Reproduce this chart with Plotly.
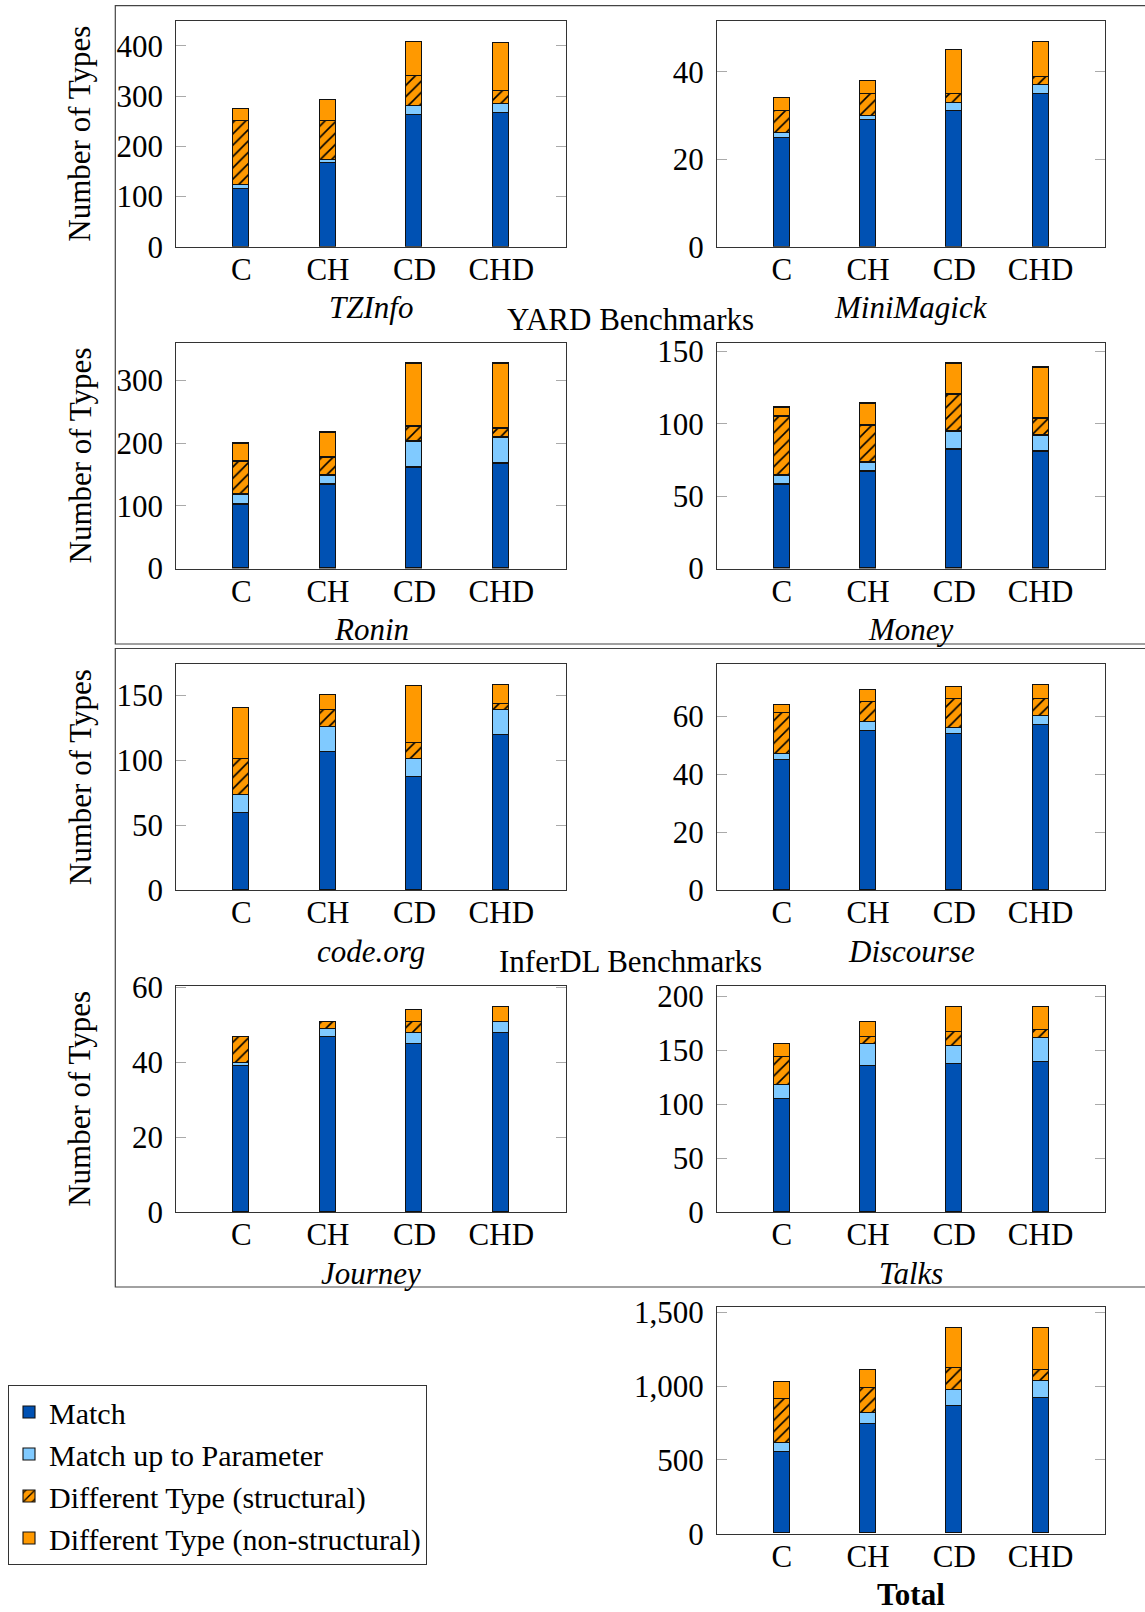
import plotly.graph_objects as go

categories = ["C", "CH", "CD", "CHD"]

benchmarks = ["TZInfo", "MiniMagick", "Ronin", "Money", "code.org", "Discourse", "Journey", "Talks", "Total"]

tzinfo_match = [116, 167, 262, 266]
tzinfo_param = [8, 7, 18, 18]
tzinfo_struct = [127, 77, 60, 26]
tzinfo_nonstruct = [23, 42, 69, 97]

minimagick_match = [25, 29, 31, 35]
minimagick_param = [1, 1, 2, 2]
minimagick_struct = [5, 5, 2, 2]
minimagick_nonstruct = [3, 3, 10, 8]

ronin_match = [102, 134, 162, 167]
ronin_param = [16, 15, 41, 42]
ronin_struct = [53, 29, 24, 14]
ronin_nonstruct = [28, 39, 101, 105]

money_match = [58, 67, 82, 81]
money_param = [6, 6, 13, 11]
money_struct = [41, 26, 25, 12]
money_nonstruct = [6, 15, 22, 35]

codeorg_match = [59, 106, 87, 119]
codeorg_param = [14, 19, 14, 19]
codeorg_struct = [28, 13, 12, 5]
codeorg_nonstruct = [39, 12, 44, 15]

discourse_match = [45, 55, 54, 57]
discourse_param = [2, 3, 2, 3]
discourse_struct = [14, 7, 10, 6]
discourse_nonstruct = [3, 4, 4, 5]

journey_match = [39, 47, 45, 48]
journey_param = [1, 2, 3, 3]
journey_struct = [7, 2, 3, 0]
journey_nonstruct = [0, 0, 3, 4]

talks_match = [105, 136, 138, 140]
talks_param = [13, 20, 16, 22]
talks_struct = [26, 7, 13, 7]
talks_nonstruct = [12, 14, 24, 22]

total_match = [552, 742, 860, 916]
total_param = [59, 72, 111, 118]
total_struct = [301, 168, 147, 74]
total_nonstruct = [113, 126, 276, 286]

ytick_sets = [
    [0, 100, 200, 300, 400],
    [0, 20, 40],
    [0, 100, 200, 300],
    [0, 50, 100, 150],
    [0, 50, 100, 150],
    [0, 20, 40, 60],
    [0, 20, 40, 60],
    [0, 50, 100, 150, 200],
    [0, 500, 1000, 1500],
]

series_names = ["Match", "Match up to Parameter", "Different Type (structural)", "Different Type (non-structural)"]

data = [
    (tzinfo_match, tzinfo_param, tzinfo_struct, tzinfo_nonstruct),
    (minimagick_match, minimagick_param, minimagick_struct, minimagick_nonstruct),
    (ronin_match, ronin_param, ronin_struct, ronin_nonstruct),
    (money_match, money_param, money_struct, money_nonstruct),
    (codeorg_match, codeorg_param, codeorg_struct, codeorg_nonstruct),
    (discourse_match, discourse_param, discourse_struct, discourse_nonstruct),
    (journey_match, journey_param, journey_struct, journey_nonstruct),
    (talks_match, talks_param, talks_struct, talks_nonstruct),
    (total_match, total_param, total_struct, total_nonstruct),
]

# ---- layout / style ----
W, H = 1145, 1612
FONT = "Liberation Serif"
FS = 31
BLUE = "#0051B3"
LIGHT = "#80CAFF"
ORANGE = "#FF9900"

def px_x(x):
    return x / W

def px_y(y):
    return 1 - y / H

col_x = [(176.3, 566.3), (717.0, 1105.3)]
row_y = [(20.7, 246.7), (342.5, 568.5), (664.3, 890.0), (985.7, 1212.0), (1307.3, 1533.7)]
positions = [(0, 0), (1, 0), (0, 1), (1, 1), (0, 2), (1, 2), (0, 3), (1, 3), (1, 4)]

fig = go.Figure()
layout_axes = {}
annotations = []

for i, (name, series, ticks, (c, r)) in enumerate(zip(benchmarks, data, ytick_sets, positions)):
    idx = "" if i == 0 else str(i + 1)
    xa, ya = "x" + idx, "y" + idx
    for k, vals in enumerate(series):
        marker = dict(line=dict(color="#111", width=1.1))
        if k == 0:
            marker["color"] = BLUE
        elif k == 1:
            marker["color"] = LIGHT
        elif k == 2:
            marker["color"] = ORANGE
            marker["pattern"] = dict(shape="/", fgcolor="#000", bgcolor=ORANGE, size=8, solidity=0.2)
        else:
            marker["color"] = ORANGE
        fig.add_trace(go.Bar(
            x=categories, y=vals, name=series_names[k], marker=marker,
            width=0.185, xaxis=xa, yaxis=ya,
            showlegend=(i == 0),
        ))
    totals = [sum(v) for v in zip(*series)]
    x0, x1 = col_x[c]
    y0, y1 = row_y[r]
    layout_axes["xaxis" + idx] = dict(
        domain=[px_x(x0), px_x(x1)], anchor=ya, type="category", automargin=False,
        range=[-0.75, 3.75], showline=True, linecolor="#333", linewidth=1.2,
        mirror=True, ticks="", showgrid=False, zeroline=False, ticklabelstandoff=-5,
        tickfont=dict(family=FONT, size=FS, color="#000"),
    )
    layout_axes["yaxis" + idx] = dict(
        domain=[px_y(y1), px_y(y0)], anchor=xa, automargin=False,
        range=[0, max(totals) * 1.1], tickvals=ticks,
        tickformat=",", showline=True, linecolor="#333", linewidth=1.2,
        mirror="ticks", ticks="inside", ticklen=10, tickcolor="#aaa", tickwidth=1,
        showgrid=False, zeroline=False, ticklabelstandoff=6,
        tickfont=dict(family=FONT, size=FS, color="#000"),
    )
    if name == "Total":
        label = "<b>Total</b>"
    else:
        label = "<i>" + name + "</i>"
    annotations.append(dict(
        text=label, x=px_x((x0 + x1) / 2), y=px_y(y1 + 61), xref="paper", yref="paper",
        xanchor="center", yanchor="middle", showarrow=False,
        font=dict(family=FONT, size=FS, color="#000"),
    ))
    if c == 0:
        annotations.append(dict(
            text="Number of Types", x=px_x(80), y=px_y((y0 + y1) / 2), xref="paper", yref="paper",
            xanchor="center", yanchor="middle", showarrow=False, textangle=-90,
            font=dict(family=FONT, size=FS, color="#000"),
        ))

for txt, yy in [("YARD Benchmarks", 319), ("InferDL Benchmarks", 961)]:
    annotations.append(dict(
        text=txt, x=px_x(630), y=px_y(yy), xref="paper", yref="paper",
        xanchor="center", yanchor="middle", showarrow=False,
        font=dict(family=FONT, size=FS, color="#000"),
    ))

shapes = [
    dict(type="rect", xref="paper", yref="paper", x0=px_x(115.3), x1=px_x(1160),
         y0=px_y(644), y1=px_y(5.7), line=dict(color="#444", width=1.2), layer="below"),
    dict(type="rect", xref="paper", yref="paper", x0=px_x(115.3), x1=px_x(1160),
         y0=px_y(1287), y1=px_y(648.5), line=dict(color="#444", width=1.2), layer="below"),
]

fig.update_layout(
    template="none",
    width=W, height=H, margin=dict(l=0, r=0, t=0, b=0, pad=0), autosize=False,
    paper_bgcolor="white", plot_bgcolor="white",
    barmode="stack", bargap=0,
    font=dict(family=FONT, size=FS, color="#000"),
    annotations=annotations, shapes=shapes,
    legend=dict(
        x=px_x(8), y=px_y(1385), xanchor="left", yanchor="top",
        bordercolor="#333", borderwidth=1, bgcolor="white",
        font=dict(family=FONT, size=30, color="#000"), traceorder="normal",
        itemwidth=30,
    ),
    **layout_axes,
)

fig.write_html("out.html", config={"displayModeBar": False},
               post_script="document.body.style.margin='0';")
